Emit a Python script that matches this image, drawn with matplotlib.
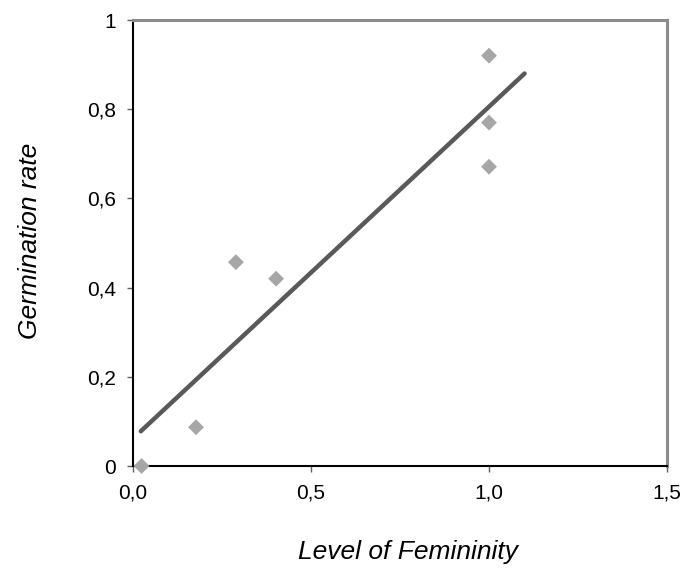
import matplotlib
matplotlib.use("Agg")
import matplotlib.pyplot as plt
from matplotlib.ticker import FuncFormatter, FixedLocator

plt.rcParams['font.family'] = ['Liberation Sans', 'DejaVu Sans']

femininity = [0.024, 0.177, 0.289, 0.402, 1.0, 1.0, 1.0]
germination = [0.0, 0.087, 0.457, 0.42, 0.92, 0.77, 0.671]
trend_x = [0.022, 1.10]
trend_y = [0.078, 0.880]
xticks = [0.0, 0.5, 1.0, 1.5]
yticks = [0, 0.2, 0.4, 0.6, 0.8, 1]

fig = plt.figure(figsize=(6.83, 5.69), dpi=100)
ax = fig.add_axes([133/683, 1-466/569, (667-133)/683, (466-20)/569])

ax.plot(trend_x, trend_y, color='#595959', lw=3.2, solid_capstyle='round', zorder=2)
ax.scatter(femininity, germination, marker='D', s=65, color='#a6a6a6', edgecolors='none', zorder=3, clip_on=False)

ax.set_xlim(0, 1.5)
ax.set_ylim(0, 1)
ax.xaxis.set_major_locator(FixedLocator(xticks))
ax.yaxis.set_major_locator(FixedLocator(yticks))
ax.xaxis.set_major_formatter(FuncFormatter(lambda v, p: f"{v:.1f}".replace('.', ',')))
ax.yaxis.set_major_formatter(FuncFormatter(lambda v, p: "0" if v == 0 else ("1" if v == 1 else f"{v:.1f}".replace('.', ','))))
ax.tick_params(direction='out', length=4.5, width=1, color='#606060', labelsize=15, pad=8)

for s in ['left', 'bottom']:
    ax.spines[s].set_color('black')
    ax.spines[s].set_linewidth(1.5)
for s in ['top', 'right']:
    ax.spines[s].set_color('#8c8c8c')
    ax.spines[s].set_linewidth(2.2)

fig.text(37/683, 1-241/569, 'Germination rate', rotation=90, rotation_mode='anchor',
         style='italic', fontsize=19, ha='center', va='baseline')
fig.text(408/683, 1-559/569, 'Level of Femininity', style='italic', fontsize=19,
         ha='center', va='baseline')

fig.savefig('out.png', dpi=100)
